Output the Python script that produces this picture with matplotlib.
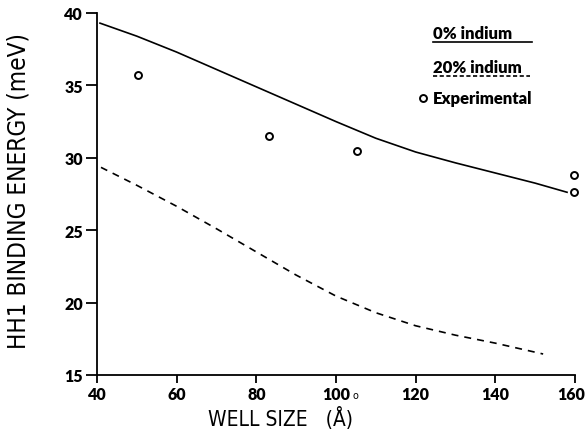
import matplotlib
matplotlib.use("Agg")
import matplotlib.pyplot as plt
import matplotlib.transforms as mtrans
import numpy as np

# theory, 0% indium (solid)
x_solid = [40.75, 50, 60, 70, 80, 90, 100, 110, 120, 130, 140, 150, 158]
y_solid = [39.3, 38.4, 37.3, 36.1, 34.9, 33.7, 32.5, 31.35, 30.4, 29.65, 28.95, 28.25, 27.62]

# theory, 20% indium (dashed)
x_dash = [41, 50, 60, 70, 80, 90, 100, 110, 120, 130, 140, 152]
y_dash = [29.34, 28.1, 26.65, 25.1, 23.5, 21.9, 20.45, 19.3, 18.4, 17.75, 17.2, 16.45]

# experimental points
x_exp = [50.4, 83.3, 105.2, 159.8, 159.8]
y_exp = [35.74, 31.49, 30.49, 28.83, 27.62]

xticks = [40, 60, 80, 100, 120, 140, 160]
yticks = [15, 20, 25, 30, 35, 40]

fig = plt.figure(figsize=(5.87, 4.35), dpi=100)
ax = fig.add_axes([97/587, 1-376/435, 478/587, 362/435])

ax.plot(x_solid, y_solid, color='black', lw=1.2)
ax.plot(x_dash, y_dash, color='black', lw=1.2, dashes=(4.2, 3.6))
ax.plot(x_exp, y_exp, 'o', mfc='white', mec='black', ms=5, mew=1.4, clip_on=False)

ax.set_xlim(40, 160)
ax.set_ylim(15, 40)
ax.set_xticks(xticks)
ax.set_yticks(yticks)
for s in ['top', 'right']:
    ax.spines[s].set_visible(False)
for s in ['left', 'bottom']:
    ax.spines[s].set_linewidth(1.3)
ax.tick_params(axis='y', direction='out', length=8, width=1.3, pad=2)
ax.tick_params(axis='x', direction='out', length=6, width=1.3, pad=2)
for lab in ax.get_xticklabels() + ax.get_yticklabels():
    lab.set_family('Lato')
    lab.set_fontweight('heavy')
    lab.set_fontsize(11.5)
# nudge the last x label so it stays inside the canvas
last = ax.get_xticklabels()[-1]
last.set_transform(last.get_transform() + mtrans.ScaledTranslation(-4/100, 0, fig.dpi_scale_trans))

ax.set_ylabel('HH1 BINDING ENERGY (meV)', fontsize=17.5, family='DejaVu Sans',
              fontstretch='condensed')
ax.yaxis.set_label_coords(-0.14, 0.51)
ax.set_xlabel('WELL SIZE   (Å)', fontsize=15, family='DejaVu Sans',
              fontstretch='condensed')
ax.xaxis.set_label_coords(0.383, -0.085)

# stray ring under the 100 tick
ax.text(105, 13.6, 'o', fontsize=7, ha='center', va='center', clip_on=False)

# hand-drawn legend
tr = fig.transFigure
def fx(px):
    return px / 587
def fy(py):
    return 1 - py / 435
fig.text(fx(433), fy(34), '0% indium', family='Lato', fontweight='heavy',
         fontsize=12, va='center')
fig.add_artist(plt.Line2D([fx(433), fx(532)], [fy(43), fy(43)], color='black', lw=1.2, transform=tr))
fig.text(fx(433), fy(68), '20% indium', family='Lato', fontweight='heavy',
         fontsize=12, va='center')
fig.add_artist(plt.Line2D([fx(433), fx(530)], [fy(77), fy(77)], color='black', lw=1.2,
                          dashes=(2.5, 1.5), transform=tr))
fig.add_artist(plt.Line2D([fx(423)], [fy(99)], marker='o', mfc='white', mec='black',
                          ms=5, mew=1.4, transform=tr))
fig.text(fx(433), fy(99), 'Experimental', family='Lato', fontweight='heavy',
         fontsize=12, va='center')

fig.savefig('out.png', dpi=100)
